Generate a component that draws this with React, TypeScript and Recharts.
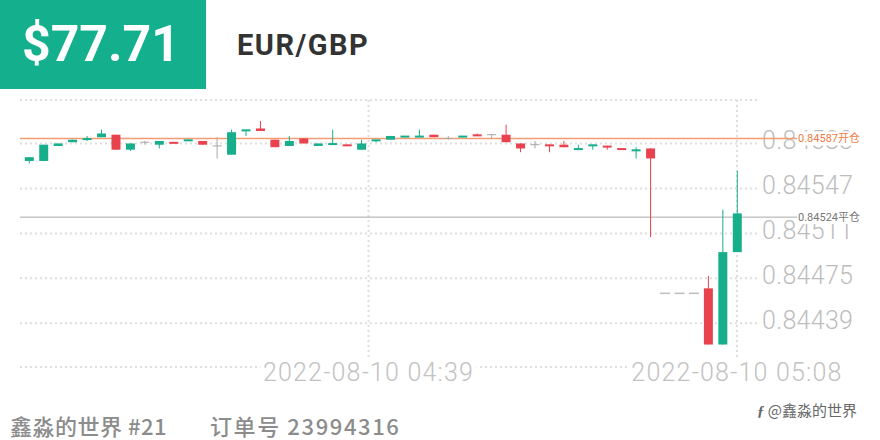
import React from "react";
import { Bar, CartesianGrid, ComposedChart, ReferenceLine, XAxis, YAxis } from "recharts";

// one entry per candle, oldest first
const opens = [
  0.84569, 0.84569, 0.84581, 0.84584, 0.84586, 0.84588, 0.8459, 0.84578, 0.84584, 0.84582,
  0.84584, 0.84585, 0.84585, 0.84581, 0.84574, 0.84593, 0.84595, 0.84586, 0.84581, 0.84587,
  0.84581, 0.84582, 0.84582, 0.84578, 0.84585, 0.84586, 0.84588, 0.84588, 0.8459, 0.84587,
  0.84588, 0.8459, 0.8459, 0.8459, 0.84583, 0.84582, 0.84582, 0.84582, 0.84578, 0.84581,
  0.84581, 0.84579, 0.84577, 0.84579, 0.84463, 0.84463, 0.84463, 0.84467, 0.84422, 0.84496,
];
const closes = [
  0.84572, 0.84582, 0.84583, 0.84586, 0.84587, 0.84591, 0.84578, 0.84583, 0.84584, 0.84585,
  0.84583, 0.84586, 0.84582, 0.84581, 0.84592, 0.84594, 0.84593, 0.8458, 0.84585, 0.84583,
  0.84583, 0.84583, 0.84581, 0.84583, 0.84586, 0.84589, 0.84589, 0.84589, 0.84588, 0.84587,
  0.84589, 0.84589, 0.8459, 0.84584, 0.84579, 0.84582, 0.84581, 0.8458, 0.84579, 0.84582,
  0.8458, 0.84578, 0.84578, 0.84571, 0.84463, 0.84463, 0.84463, 0.84422, 0.84496, 0.84527,
];
const highs = [
  0.84572, 0.84582, 0.84583, 0.84586, 0.84589, 0.84594, 0.8459, 0.84583, 0.84585, 0.84585,
  0.84584, 0.84586, 0.84585, 0.84588, 0.84594, 0.84594, 0.84601, 0.84586, 0.84589, 0.84587,
  0.84583, 0.84594, 0.84582, 0.84586, 0.84586, 0.84589, 0.84589, 0.84594, 0.8459, 0.84589,
  0.84589, 0.84591, 0.8459, 0.84598, 0.84583, 0.84585, 0.84582, 0.84585, 0.84582, 0.84582,
  0.84581, 0.84579, 0.8458, 0.84579, 0.84463, 0.84463, 0.84463, 0.84477, 0.8453, 0.84561,
];
const lows = [
  0.84567, 0.84569, 0.84581, 0.84584, 0.84585, 0.84588, 0.84578, 0.84577, 0.84582, 0.84579,
  0.84583, 0.84585, 0.84582, 0.84571, 0.84574, 0.84589, 0.84593, 0.8458, 0.84581, 0.84583,
  0.84581, 0.84582, 0.84581, 0.84578, 0.84584, 0.84586, 0.84588, 0.84588, 0.84588, 0.84586,
  0.84588, 0.84589, 0.84587, 0.84584, 0.84576, 0.84579, 0.84576, 0.8458, 0.84578, 0.84578,
  0.84578, 0.84578, 0.84571, 0.84508, 0.84463, 0.84463, 0.84463, 0.84422, 0.84422, 0.84496,
];

const priceTicks = [0.84439, 0.84475, 0.84511, 0.84547, 0.84583];
const timeTicks = [23.5, 49];
const timeLabels = ["2022-08-10 04:39", "2022-08-10 05:08"];

const openPrice = 0.84587;
const closePrice = 0.84524;

const UP = "#17ae8b";
const DOWN = "#e9424f";
const FLAT = "#a8a8a8";
const GRID = "#dedede";

const X_DOMAIN: [number, number] = [-0.623, 50.384];
const Y_DOMAIN: [number, number] = [0.84404, 0.846178];
const MARGIN = { top: 100, right: 0, bottom: 43, left: 20 };

const data = opens.map((o, i) => ({
  i,
  open: o,
  close: closes[i],
  high: highs[i],
  low: lows[i],
  range: [lows[i], highs[i]],
}));

function Candle(props: any) {
  const { x, y, width, height, payload } = props;
  const { open, close, high, low } = payload;
  const cx = x + width / 2;
  if (high === low) {
    return <line x1={cx - 5} x2={cx + 5} y1={y} y2={y} stroke="#bdbdbd" strokeWidth={1.5} />;
  }
  const k = height / (high - low);
  const yo = y + (high - open) * k;
  const yc = y + (high - close) * k;
  const color = close > open ? UP : close < open ? DOWN : FLAT;
  let top = Math.min(yo, yc);
  let h = Math.abs(yo - yc);
  if (open !== close && h < 2) {
    top -= (2 - h) / 2;
    h = 2;
  }
  return (
    <g>
      <line x1={cx} x2={cx} y1={y} y2={y + height} stroke={color} strokeWidth={1} />
      {open === close ? (
        <line x1={x} x2={x + width} y1={yo} y2={yo} stroke={color} strokeWidth={1} />
      ) : (
        <rect x={x} y={top} width={width} height={h} fill={color} />
      )}
    </g>
  );
}

function PriceTick(props: any) {
  const { y, payload } = props;
  return (
    <text
      x={762}
      y={y - 3}
      dominantBaseline="central"
      fontSize={25}
      fontWeight={300}
      letterSpacing={0.3}
      fill="#bdbdbd"
      fontFamily="Roboto"
    >
      {payload.value.toFixed(5)}
    </text>
  );
}

function TimeTick(props: any) {
  const { x, index } = props;
  return (
    <g>
      <rect x={x - 108} y={360} width={216} height={24} fill="#fff" />
      <text
        x={x}
        y={372}
        textAnchor="middle"
        dominantBaseline="central"
        fontSize={25}
        fontWeight={300}
        letterSpacing={1.2}
        fill="#c2c2c2"
        fontFamily="Roboto"
      >
        {timeLabels[index]}
      </text>
    </g>
  );
}

function TradeLabel(props: any) {
  const { viewBox, text, color, lineColor, lineWidth } = props;
  const end = viewBox.x + viewBox.width;
  return (
    <g>
      <line x1={end} x2={797} y1={viewBox.y} y2={viewBox.y} stroke={lineColor} strokeWidth={lineWidth} />
      <rect x={797} y={viewBox.y - 7} width={80} height={14} fill="#fff" />
      <text x={798} y={viewBox.y} dominantBaseline="central" fontSize={11} fill={color} fontFamily="Roboto, 'Noto Sans CJK SC'">
        {text}
      </text>
    </g>
  );
}

// the three chart layers share the same plot box
const layer: React.CSSProperties = { position: "absolute", left: 0, top: 0, pointerEvents: "none" };

export default function App() {
  return (
    <div style={{ position: "absolute", left: 0, top: 0, width: 880, height: 440, background: "#fff", overflow: "hidden" }}>
      <div
        style={{
          position: "absolute",
          left: 0,
          top: 0,
          width: 206,
          height: 89,
          background: "#14b08e",
          color: "#fff",
          fontFamily: "Roboto",
          fontWeight: 700,
          fontSize: 50,
          lineHeight: "89px",
          paddingLeft: 22,
          boxSizing: "border-box",
        }}
      >
        $77.71
      </div>
      <div
        style={{
          position: "absolute",
          left: 237,
          top: 27,
          fontFamily: "Roboto",
          fontWeight: 700,
          fontSize: 29,
          letterSpacing: 1.5,
          color: "#333",
          lineHeight: "36px",
        }}
      >
        EUR/GBP
      </div>

      {/* grid and axis labels */}
      <div style={layer}>
        <ComposedChart width={880} height={440} data={data} margin={MARGIN}>
          <CartesianGrid stroke={GRID} strokeWidth={2} strokeDasharray="2 3" vertical={false} />
          <XAxis
            dataKey="i"
            type="number"
            domain={X_DOMAIN}
            ticks={timeTicks}
            height={30}
            tickLine={false}
            axisLine={{ stroke: GRID, strokeWidth: 2, strokeDasharray: "2 3" }}
            tick={<TimeTick />}
            interval={0}
            allowDataOverflow
          />
          <YAxis
            orientation="right"
            width={123}
            domain={Y_DOMAIN}
            ticks={priceTicks}
            tickLine={false}
            axisLine={false}
            tick={<PriceTick />}
            interval={0}
            allowDataOverflow
          />
          <ReferenceLine y={Y_DOMAIN[1]} stroke={GRID} strokeWidth={2} strokeDasharray="2 3" />
          {timeTicks.map((t) => (
            <ReferenceLine key={t} x={t} stroke={GRID} strokeWidth={2} strokeDasharray="2 3" />
          ))}
        </ComposedChart>
      </div>

      {/* open / close price lines sit on top of the price labels */}
      <div style={layer}>
        <ComposedChart width={880} height={440} data={data} margin={MARGIN}>
          <XAxis dataKey="i" type="number" domain={X_DOMAIN} height={30} tick={false} tickLine={false} axisLine={false} allowDataOverflow />
          <YAxis orientation="right" width={123} domain={Y_DOMAIN} tick={false} tickLine={false} axisLine={false} allowDataOverflow />
          <ReferenceLine
            y={openPrice}
            stroke="#f39c75"
            strokeWidth={1.5}
            label={<TradeLabel text={`${openPrice}开仓`} color="#f07a45" lineColor="#f39c75" lineWidth={1.5} />}
          />
          <ReferenceLine
            y={closePrice}
            stroke="#a9a9a9"
            strokeWidth={1}
            label={<TradeLabel text={`${closePrice}平仓`} color="#777" lineColor="#a9a9a9" lineWidth={1} />}
          />
        </ComposedChart>
      </div>

      {/* candles */}
      <div style={layer}>
        <ComposedChart width={880} height={440} data={data} margin={MARGIN}>
          <XAxis dataKey="i" type="number" domain={X_DOMAIN} height={30} tick={false} tickLine={false} axisLine={false} allowDataOverflow />
          <YAxis orientation="right" width={123} domain={Y_DOMAIN} tick={false} tickLine={false} axisLine={false} allowDataOverflow />
          <Bar dataKey="range" barSize={9} shape={<Candle />} isAnimationActive={false} />
        </ComposedChart>
      </div>

      <div
        style={{
          position: "absolute",
          left: 10,
          top: 410,
          fontFamily: "'Noto Sans CJK SC'",
          fontWeight: 500,
          fontSize: 22,
          letterSpacing: 0.5,
          color: "#8c8c8c",
          whiteSpace: "pre",
          lineHeight: "30px",
        }}
      >
        鑫淼的世界 #21
      </div>
      <div
        style={{
          position: "absolute",
          left: 210,
          top: 410,
          fontFamily: "'Noto Sans CJK SC'",
          fontWeight: 500,
          fontSize: 22,
          letterSpacing: 1.6,
          color: "#8c8c8c",
          whiteSpace: "pre",
          lineHeight: "30px",
        }}
      >
        订单号 23994316
      </div>
      <div
        style={{
          position: "absolute",
          left: 757,
          top: 400,
          fontFamily: "'Noto Sans CJK SC'",
          fontSize: 15,
          color: "#666",
          whiteSpace: "pre",
          lineHeight: "20px",
        }}
      >
        <span style={{ fontStyle: "italic", fontFamily: "serif", fontWeight: 700 }}>ƒ</span> @鑫淼的世界
      </div>
    </div>
  );
}
